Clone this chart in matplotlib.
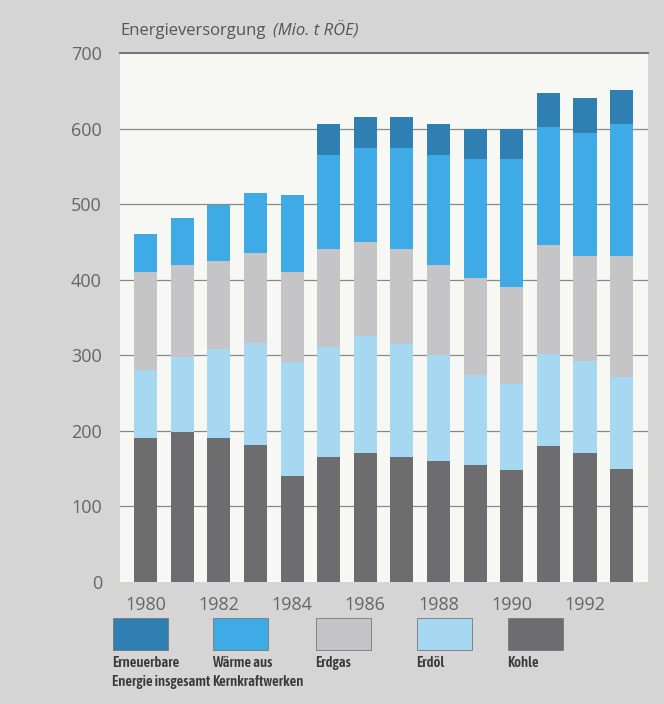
import matplotlib.pyplot as plt
import matplotlib.patches as mpatches
import numpy as np

years = list(range(1980, 1994))
kohle = [191, 199, 190, 181, 140, 165, 170, 165, 160, 155, 148, 180, 170, 149]
erdoel = [89, 99, 119, 135, 151, 146, 155, 150, 141, 119, 114, 122, 123, 122]
erdgas = [130, 122, 116, 119, 119, 130, 125, 126, 119, 128, 129, 144, 138, 160]
waerme = [51, 62, 74, 80, 102, 125, 125, 134, 146, 158, 169, 157, 164, 175]
erneuerbar = [0, 0, 0, 0, 0, 41, 41, 41, 41, 40, 40, 45, 46, 45]

labels = ['Erneuerbare\nEnergie insgesamt', 'Wärme aus\nKernkraftwerken', 'Erdgas', 'Erdöl', 'Kohle']
colors = ['#2f7fb2', '#3eaae6', '#c5c5c7', '#a6d8f2', '#6d6d6f']

plt.rcParams['font.family'] = ['Open Sans', 'DejaVu Sans']

fig = plt.figure(figsize=(6.64, 7.04), dpi=100)
fig.patch.set_facecolor('#d5d5d5')
ax = fig.add_axes([0.1807, 0.1737, 0.7952, 0.7504])
ax.set_facecolor('#f7f7f4')

series = [kohle, erdoel, erdgas, waerme, erneuerbar]
series_cols = [colors[4], colors[3], colors[2], colors[1], colors[0]]
bottom = np.zeros(len(years))
for vals, c in zip(series, series_cols):
    ax.bar(years, vals, bottom=bottom, width=0.63, color=c, zorder=3)
    bottom += np.array(vals)

ax.set_xlim(1979.3, 1993.72)
ax.set_ylim(0, 700)
ax.set_yticks(range(0, 701, 100))
ax.set_xticks(years[::2])
for y in range(100, 700, 100):
    ax.axhline(y, color='#8a8a8a', lw=0.9, zorder=1)
ax.axhline(700, color='#777777', lw=1.5, zorder=1, clip_on=False)
for s in ax.spines.values():
    s.set_visible(False)
ax.tick_params(length=0, labelsize=13, colors='#666666')
ax.tick_params(axis='y', pad=13)
ax.tick_params(axis='x', pad=10)

fig.text(0.1807, 0.950, 'Energieversorgung', fontsize=12, color='#555555', va='baseline')
fig.text(0.411, 0.950, '(Mio. t RÖE)', fontsize=12, color='#555555', style='italic', va='baseline')

# legend boxes along the bottom
box_x = [113, 213, 316, 417, 508]
for x0, lab, c in zip(box_x, labels, colors):
    r = mpatches.Rectangle((x0 / 664, 1 - 650 / 704), 55 / 664, 32 / 704,
                           transform=fig.transFigure, facecolor=c,
                           edgecolor='#777777', lw=0.6)
    fig.patches.append(r)
    fig.text(x0 / 664 - 0.002, 1 - 656 / 704, lab, fontsize=10.5, fontweight=600,
             family=['Asap Condensed', 'DejaVu Sans'], color='#3a3a3a',
             va='top', ha='left', linespacing=1.45)

fig.savefig('out.png', dpi=100, facecolor=fig.get_facecolor())
